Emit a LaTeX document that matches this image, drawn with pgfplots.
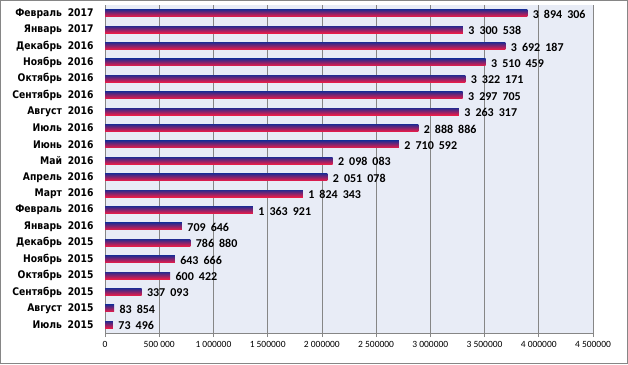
\documentclass[border=0pt]{standalone}
\usepackage{pgfplots}
\pgfplotsset{compat=1.18}
\usepackage{fontspec}
\setmainfont{Carlito}
\newfontfamily\labfont[FakeStretch=0.88]{DejaVu Sans}
\definecolor{bgcol}{HTML}{E8ECF6}
\definecolor{axcol}{HTML}{868686}
\definecolor{bartop}{HTML}{2A2A8E}
\definecolor{barmid}{HTML}{B01E66}
\definecolor{barbot}{HTML}{EC1C48}
\newcommand\vs{\hspace{0.42em}}
\newcommand\ts{\hspace{0.22em}}
\newcommand\cs{\hspace{0.55em}}
\pgfplotsset{mybar/.style={xbar, bar width=7bp, bar shift=0pt, draw=none,
  top color=bartop, middle color=barmid, bottom color=barbot,
  point meta=explicit symbolic,
  nodes near coords,
  every node near coord/.append style={font=\bfseries\fontsize{12bp}{14bp}\selectfont, anchor=west, text=black, yshift=-1bp, xshift=2bp}}}

\begin{document}
\begin{tikzpicture}[x=1bp,y=1bp]
\draw[axcol, line width=1bp] (0.5,0.5) rectangle (627.5,363.5);
\begin{axis}[
  at={(105bp,31bp)}, anchor=south west,
  scale only axis, width=488bp, height=328bp,
  xmin=0, xmax=4500000, ymin=-0.5, ymax=19.5,
  axis background/.style={fill=bgcol},
  axis x line*=bottom, axis y line*=left,
  x axis line style={-, axcol, line width=0.75bp},
  y axis line style={-, axcol, line width=0.75bp},
  xmajorgrids, grid style={axcol, line width=0.6bp},
  tick align=outside,
  major tick length=4bp,
  tick style={axcol, line width=0.6bp},
  xtick={0,500000,1000000,1500000,2000000,2500000,3000000,3500000,4000000,4500000},
  xticklabels={0,500\ts 000,1\ts 000000,1\ts 500000,2\ts 000000,2\ts 500000,3\ts 000000,3\ts 500000,4\ts 000000,4\ts 500000},
  xticklabel style={font=\fontsize{9.5bp}{11bp}\selectfont, yshift=-1bp},
  scaled x ticks=false,
  ytick={0,...,19},
  yticklabels={Июль\cs 2015,Август\cs 2015,Сентябрь\cs 2015,Октябрь\cs 2015,Ноябрь\cs 2015,Декабрь\cs 2015,Январь\cs 2016,Февраль\cs 2016,Март\cs 2016,Апрель\cs 2016,Май\cs 2016,Июнь\cs 2016,Июль\cs 2016,Август\cs 2016,Сентябрь\cs 2016,Октябрь\cs 2016,Ноябрь\cs 2016,Декабрь\cs 2016,Январь\cs 2017,Февраль\cs 2017},
  yticklabel style={font=\labfont\bfseries\fontsize{10.5bp}{12bp}\selectfont, xshift=-4bp},
  y tick style={draw=none},
  extra y ticks={-0.5,0.5,...,19.5},
  extra y tick labels={},
  extra y tick style={grid=none, tick style={axcol, line width=0.6bp, draw=axcol}, major tick length=4bp},
  clip=false,
]
\addplot[mybar] coordinates {(73496,0) [73\vs 496]};
\addplot[mybar] coordinates {(83854,1) [83\vs 854]};
\addplot[mybar] coordinates {(337093,2) [337\vs 093]};
\addplot[mybar] coordinates {(600422,3) [600\vs 422]};
\addplot[mybar] coordinates {(643666,4) [643\vs 666]};
\addplot[mybar] coordinates {(786880,5) [786\vs 880]};
\addplot[mybar] coordinates {(709646,6) [709\vs 646]};
\addplot[mybar] coordinates {(1363921,7) [1\vs 363\vs 921]};
\addplot[mybar] coordinates {(1824343,8) [1\vs 824\vs 343]};
\addplot[mybar] coordinates {(2051078,9) [2\vs 051\vs 078]};
\addplot[mybar] coordinates {(2098083,10) [2\vs 098\vs 083]};
\addplot[mybar] coordinates {(2710592,11) [2\vs 710\vs 592]};
\addplot[mybar] coordinates {(2888886,12) [2\vs 888\vs 886]};
\addplot[mybar] coordinates {(3263317,13) [3\vs 263\vs 317]};
\addplot[mybar] coordinates {(3297705,14) [3\vs 297\vs 705]};
\addplot[mybar] coordinates {(3322171,15) [3\vs 322\vs 171]};
\addplot[mybar] coordinates {(3510459,16) [3\vs 510\vs 459]};
\addplot[mybar] coordinates {(3692187,17) [3\vs 692\vs 187]};
\addplot[mybar] coordinates {(3300538,18) [3\vs 300\vs 538]};
\addplot[mybar] coordinates {(3894306,19) [3\vs 894\vs 306]};
\end{axis}
\end{tikzpicture}
\end{document}
